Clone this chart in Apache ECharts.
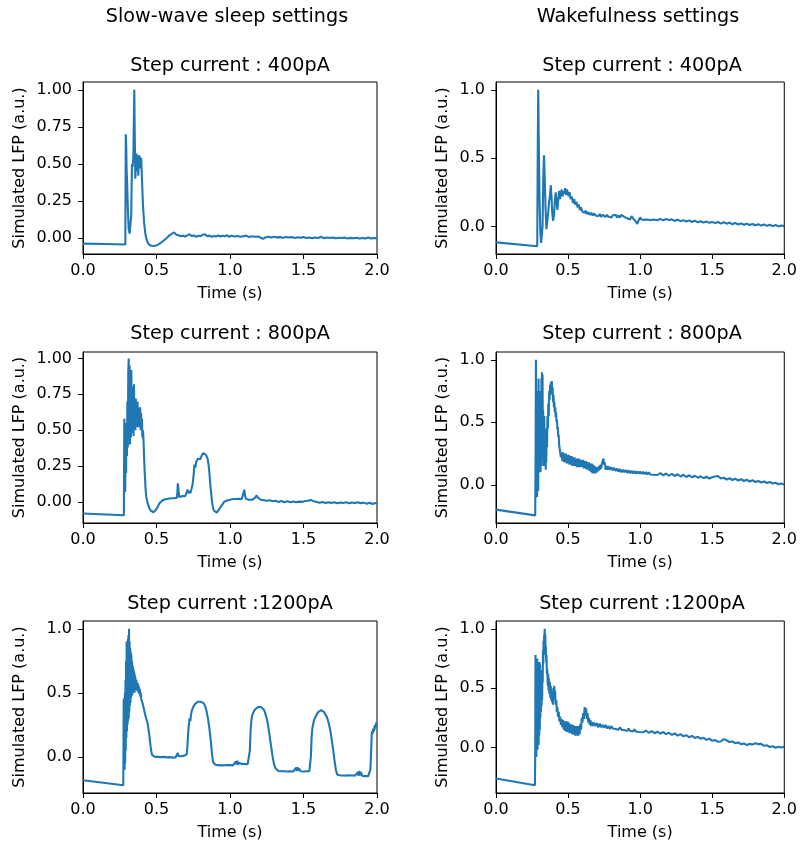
<!DOCTYPE html>
<html>
<head>
<meta charset="utf-8">
<script src="https://cdn.jsdelivr.net/npm/echarts@6/dist/echarts.min.js"></script>
<style>html,body{margin:0;padding:0;background:#fff;}#c{width:800px;height:846px;}</style>
</head>
<body>
<div id="c"></div>
<script>
// ---------------- DATA (time in s, simulated LFP in a.u.) ----------------
const columnTitles = ["Slow-wave sleep settings", "Wakefulness settings"];
const panelTitles = ["Step current : 400pA", "Step current : 400pA", "Step current : 800pA", "Step current : 800pA", "Step current :1200pA", "Step current :1200pA"];
const xTicks = [0, 0.5, 1.0, 1.5, 2.0];
const yTicksSws400 = [0, 0.25, 0.5, 0.75, 1.0];
const yTicksSws800 = [0, 0.25, 0.5, 0.75, 1.0];
const yTicksCoarse = [0, 0.5, 1.0];

const sws400 = [[0,-0.038],[0.15,-0.041],[0.288,-0.044],[0.291,0.70],[0.294,0.62],[0.297,0.45],[0.300,0.38],[0.305,0.20],[0.311,0.06],[0.317,0.03],[0.323,0.02],[0.328,0.15],[0.333,0.50],[0.338,0.48],[0.343,0.56],[0.346,0.80],[0.349,1.0],[0.352,0.70],[0.356,0.40],[0.360,0.52],[0.364,0.57],[0.368,0.45],[0.372,0.55],[0.376,0.42],[0.380,0.56],[0.384,0.47],[0.388,0.55],[0.392,0.50],[0.396,0.54],[0.401,0.40],[0.408,0.22],[0.416,0.10],[0.424,0.03],[0.432,-0.01],[0.440,-0.03],[0.450,-0.045],[0.465,-0.052],[0.48,-0.054],[0.50,-0.05],[0.52,-0.04],[0.545,-0.02],[0.57,0.0],[0.59,0.02],[0.605,0.03],[0.62,0.038],[0.635,0.022],[0.65,0.018],[0.665,0.012],[0.68,0.016],[0.695,0.01],[0.71,0.018],[0.725,0.026],[0.74,0.012],[0.755,0.018],[0.77,0.008],[0.785,0.015],[0.80,0.012],[0.815,0.022],[0.83,0.026],[0.845,0.012],[0.86,0.016],[0.875,0.008],[0.89,0.014],[0.905,0.01],[0.92,0.018],[0.935,0.01],[0.95,0.015],[0.965,0.012],[0.98,0.018],[0.995,0.008],[1.01,0.015],[1.03,0.01],[1.05,0.014],[1.07,0.008],[1.09,0.012],[1.11,0.016],[1.13,0.006],[1.15,0.012],[1.17,0.008],[1.19,0.01],[1.21,0.002],[1.225,-0.006],[1.24,0.004],[1.26,0.008],[1.28,0.003],[1.30,0.008],[1.32,0.004],[1.34,0.006],[1.36,0.002],[1.38,0.007],[1.40,0.003],[1.42,0.006],[1.44,0.0],[1.46,0.005],[1.48,0.002],[1.50,0.006],[1.52,0.0],[1.54,0.004],[1.56,-0.002],[1.58,0.003],[1.60,0.0],[1.62,0.008],[1.64,-0.002],[1.66,0.003],[1.68,0.0],[1.70,0.004],[1.72,-0.002],[1.74,0.002],[1.76,0.0],[1.78,0.003],[1.80,-0.003],[1.82,0.001],[1.84,-0.002],[1.86,0.002],[1.88,-0.003],[1.90,0.0],[1.92,-0.004],[1.94,0.004],[1.96,-0.004],[1.98,0.0],[2.0,-0.002]];

const wake400 = [[0,-0.117],[0.286,-0.145],[0.290,0.6],[0.293,1.0],[0.297,0.6],[0.302,0.2],[0.308,-0.05],[0.313,-0.12],[0.318,-0.13],[0.323,0.0],[0.328,0.35],[0.333,0.52],[0.338,0.35],[0.344,0.12],[0.350,-0.02],[0.356,-0.03],[0.362,0.10],[0.368,0.18],[0.374,0.22],[0.380,0.30],[0.385,0.22],[0.390,0.10],[0.396,0.04],[0.402,0.08],[0.408,0.18],[0.414,0.25],[0.420,0.18],[0.426,0.12],[0.432,0.20],[0.438,0.26],[0.444,0.20],[0.450,0.24],[0.456,0.27],[0.462,0.22],[0.468,0.26],[0.474,0.24],[0.480,0.28],[0.486,0.23],[0.492,0.27],[0.498,0.25],[0.504,0.22],[0.51,0.25],[0.518,0.20],[0.526,0.22],[0.534,0.17],[0.542,0.20],[0.55,0.16],[0.558,0.18],[0.566,0.14],[0.574,0.16],[0.582,0.12],[0.59,0.14],[0.598,0.11],[0.606,0.12],[0.614,0.10],[0.622,0.115],[0.63,0.09],[0.64,0.105],[0.65,0.085],[0.66,0.10],[0.67,0.08],[0.68,0.095],[0.69,0.08],[0.70,0.09],[0.71,0.075],[0.72,0.09],[0.73,0.07],[0.74,0.085],[0.75,0.095],[0.76,0.07],[0.77,0.085],[0.78,0.07],[0.79,0.08],[0.80,0.065],[0.81,0.08],[0.82,0.07],[0.83,0.085],[0.84,0.065],[0.85,0.08],[0.86,0.065],[0.87,0.085],[0.88,0.095],[0.89,0.07],[0.90,0.08],[0.91,0.06],[0.92,0.07],[0.93,0.05],[0.94,0.075],[0.95,0.06],[0.96,0.065],[0.97,0.035],[0.98,0.018],[0.99,0.045],[1.0,0.066],[1.01,0.05],[1.02,0.062],[1.03,0.048],[1.04,0.058],[1.05,0.05],[1.06,0.06],[1.07,0.045],[1.08,0.058],[1.09,0.05],[1.10,0.058],[1.12,0.045],[1.14,0.055],[1.16,0.044],[1.18,0.054],[1.20,0.046],[1.22,0.052],[1.24,0.04],[1.26,0.05],[1.28,0.038],[1.30,0.046],[1.32,0.036],[1.34,0.044],[1.36,0.032],[1.38,0.042],[1.40,0.03],[1.42,0.038],[1.44,0.028],[1.46,0.036],[1.48,0.026],[1.50,0.033],[1.52,0.024],[1.54,0.032],[1.56,0.02],[1.58,0.03],[1.60,0.02],[1.62,0.028],[1.64,0.016],[1.66,0.026],[1.68,0.014],[1.70,0.022],[1.72,0.012],[1.74,0.02],[1.76,0.01],[1.78,0.018],[1.80,0.008],[1.82,0.016],[1.84,0.006],[1.86,0.014],[1.88,0.004],[1.90,0.012],[1.92,0.002],[1.94,0.01],[1.96,0.0],[1.98,0.006],[2.0,0.002]];

const sws800 = [[0,-0.081],[0.278,-0.093],[0.281,0.58],[0.284,0.30],[0.287,0.07],[0.290,0.40],[0.293,0.20],[0.296,0.55],[0.299,0.32],[0.302,0.70],[0.305,0.38],[0.308,0.90],[0.311,1.0],[0.314,0.45],[0.317,0.95],[0.320,0.40],[0.323,0.85],[0.326,0.45],[0.329,0.92],[0.332,0.48],[0.335,0.80],[0.338,0.50],[0.341,0.75],[0.344,0.46],[0.347,0.82],[0.350,0.52],[0.353,0.70],[0.356,0.50],[0.359,0.72],[0.362,0.55],[0.365,0.68],[0.368,0.52],[0.371,0.70],[0.374,0.55],[0.377,0.66],[0.380,0.52],[0.383,0.64],[0.386,0.55],[0.389,0.66],[0.392,0.50],[0.395,0.62],[0.398,0.52],[0.401,0.58],[0.404,0.45],[0.408,0.50],[0.412,0.42],[0.416,0.30],[0.42,0.20],[0.425,0.10],[0.43,0.04],[0.44,-0.01],[0.45,-0.04],[0.46,-0.06],[0.47,-0.07],[0.48,-0.072],[0.49,-0.065],[0.50,-0.05],[0.51,-0.03],[0.52,-0.01],[0.53,0.0],[0.54,0.01],[0.55,0.02],[0.56,0.018],[0.57,0.028],[0.58,0.022],[0.59,0.03],[0.60,0.025],[0.61,0.032],[0.62,0.026],[0.63,0.035],[0.64,0.03],[0.645,0.13],[0.65,0.08],[0.655,0.035],[0.665,0.03],[0.675,0.04],[0.685,0.035],[0.695,0.04],[0.705,0.05],[0.712,0.085],[0.718,0.06],[0.724,0.075],[0.73,0.06],[0.738,0.09],[0.745,0.12],[0.752,0.18],[0.758,0.26],[0.764,0.24],[0.77,0.28],[0.776,0.27],[0.782,0.30],[0.788,0.29],[0.794,0.31],[0.80,0.30],[0.806,0.32],[0.812,0.33],[0.818,0.34],[0.824,0.33],[0.83,0.34],[0.836,0.33],[0.842,0.32],[0.848,0.30],[0.854,0.26],[0.86,0.20],[0.866,0.12],[0.872,0.06],[0.878,0.0],[0.884,-0.04],[0.89,-0.06],[0.90,-0.072],[0.91,-0.075],[0.92,-0.065],[0.93,-0.045],[0.94,-0.03],[0.95,-0.015],[0.96,0.0],[0.97,0.005],[0.98,0.01],[0.99,0.008],[1.0,0.015],[1.01,0.01],[1.02,0.02],[1.03,0.012],[1.04,0.02],[1.05,0.015],[1.06,0.022],[1.07,0.014],[1.08,0.02],[1.09,0.02],[1.097,0.085],[1.103,0.04],[1.11,0.02],[1.12,0.025],[1.13,0.015],[1.14,0.022],[1.15,0.015],[1.16,0.02],[1.17,0.028],[1.18,0.045],[1.19,0.03],[1.20,0.022],[1.21,0.015],[1.22,0.02],[1.23,0.012],[1.24,0.018],[1.25,0.008],[1.27,0.012],[1.29,0.004],[1.31,0.008],[1.33,0.0],[1.35,0.006],[1.37,-0.002],[1.39,0.004],[1.41,-0.002],[1.43,0.003],[1.45,-0.003],[1.47,0.002],[1.49,0.0],[1.51,0.006],[1.53,0.008],[1.55,0.014],[1.57,0.004],[1.59,0.0],[1.61,-0.006],[1.63,0.0],[1.65,-0.008],[1.67,-0.002],[1.69,-0.008],[1.71,-0.003],[1.73,-0.01],[1.75,-0.004],[1.77,-0.008],[1.79,-0.003],[1.81,-0.01],[1.83,-0.004],[1.85,-0.008],[1.87,-0.002],[1.89,-0.01],[1.91,-0.005],[1.93,-0.012],[1.95,-0.006],[1.97,-0.015],[1.99,-0.008],[2.0,-0.012]];

const wake800 = [[0,-0.199],[0.272,-0.245],[0.275,0.3],[0.277,1.0],[0.279,0.2],[0.281,-0.09],[0.283,0.6],[0.285,-0.1],[0.287,0.75],[0.289,0.0],[0.291,0.55],[0.293,-0.05],[0.295,0.85],[0.297,0.1],[0.299,0.65],[0.301,0.15],[0.303,0.75],[0.305,0.2],[0.307,0.55],[0.309,0.1],[0.311,0.7],[0.313,0.15],[0.315,0.85],[0.317,0.3],[0.319,0.9],[0.321,0.2],[0.323,0.88],[0.325,0.3],[0.327,0.6],[0.329,0.15],[0.331,0.5],[0.333,0.25],[0.335,0.55],[0.337,0.2],[0.339,0.45],[0.341,0.15],[0.343,0.4],[0.345,0.12],[0.347,0.35],[0.349,0.18],[0.351,0.45],[0.354,0.30],[0.357,0.55],[0.360,0.45],[0.363,0.65],[0.366,0.55],[0.369,0.75],[0.372,0.68],[0.375,0.80],[0.378,0.72],[0.381,0.82],[0.384,0.74],[0.387,0.83],[0.390,0.72],[0.393,0.78],[0.396,0.66],[0.399,0.72],[0.402,0.62],[0.405,0.66],[0.408,0.58],[0.411,0.62],[0.414,0.54],[0.417,0.58],[0.42,0.50],[0.423,0.52],[0.426,0.44],[0.429,0.46],[0.432,0.38],[0.435,0.40],[0.438,0.32],[0.441,0.33],[0.444,0.27],[0.447,0.28],[0.45,0.22],[0.455,0.26],[0.46,0.19],[0.465,0.26],[0.47,0.18],[0.475,0.25],[0.48,0.18],[0.485,0.25],[0.49,0.17],[0.495,0.24],[0.50,0.17],[0.505,0.24],[0.51,0.16],[0.515,0.23],[0.52,0.16],[0.525,0.23],[0.53,0.15],[0.535,0.22],[0.54,0.15],[0.545,0.22],[0.55,0.15],[0.555,0.21],[0.56,0.14],[0.565,0.21],[0.57,0.14],[0.575,0.21],[0.58,0.14],[0.585,0.20],[0.59,0.14],[0.595,0.20],[0.60,0.14],[0.605,0.20],[0.61,0.13],[0.615,0.19],[0.62,0.13],[0.625,0.19],[0.63,0.12],[0.635,0.18],[0.64,0.12],[0.645,0.18],[0.65,0.11],[0.655,0.17],[0.66,0.10],[0.665,0.17],[0.67,0.09],[0.675,0.16],[0.68,0.09],[0.685,0.15],[0.69,0.09],[0.695,0.14],[0.70,0.10],[0.705,0.14],[0.71,0.11],[0.715,0.15],[0.72,0.12],[0.725,0.16],[0.73,0.13],[0.735,0.17],[0.74,0.16],[0.745,0.21],[0.75,0.16],[0.755,0.18],[0.76,0.12],[0.765,0.15],[0.77,0.12],[0.775,0.15],[0.78,0.12],[0.785,0.145],[0.79,0.12],[0.80,0.14],[0.81,0.115],[0.82,0.135],[0.83,0.11],[0.84,0.13],[0.85,0.105],[0.86,0.125],[0.87,0.1],[0.88,0.12],[0.89,0.1],[0.90,0.118],[0.91,0.095],[0.92,0.115],[0.93,0.092],[0.94,0.112],[0.95,0.09],[0.96,0.11],[0.97,0.088],[0.98,0.108],[0.99,0.088],[1.0,0.106],[1.01,0.086],[1.02,0.104],[1.03,0.085],[1.04,0.102],[1.05,0.082],[1.06,0.1],[1.07,0.082],[1.08,0.098],[1.09,0.08],[1.10,0.096],[1.12,0.078],[1.14,0.094],[1.16,0.075],[1.18,0.09],[1.20,0.072],[1.22,0.088],[1.24,0.07],[1.26,0.084],[1.28,0.066],[1.30,0.08],[1.32,0.062],[1.34,0.076],[1.36,0.06],[1.38,0.072],[1.40,0.056],[1.42,0.068],[1.44,0.052],[1.46,0.064],[1.48,0.05],[1.50,0.06],[1.52,0.066],[1.54,0.07],[1.56,0.05],[1.58,0.056],[1.60,0.042],[1.62,0.052],[1.64,0.038],[1.66,0.048],[1.68,0.034],[1.70,0.044],[1.72,0.03],[1.74,0.04],[1.76,0.026],[1.78,0.036],[1.80,0.022],[1.82,0.03],[1.84,0.018],[1.86,0.026],[1.88,0.014],[1.90,0.022],[1.92,0.01],[1.94,0.016],[1.96,0.004],[1.98,0.01],[2.0,0.002]];

const sws1200 = [[0,-0.182],[0.274,-0.221],[0.277,0.45],[0.279,-0.08],[0.281,0.46],[0.283,-0.1],[0.285,0.5],[0.287,-0.05],[0.289,0.6],[0.291,0.05],[0.293,0.75],[0.295,0.15],[0.297,0.9],[0.299,0.2],[0.301,0.85],[0.303,0.25],[0.305,0.92],[0.307,0.28],[0.309,0.95],[0.311,0.3],[0.313,1.0],[0.315,0.35],[0.317,0.9],[0.319,0.4],[0.321,0.85],[0.323,0.42],[0.325,0.82],[0.327,0.46],[0.329,0.80],[0.331,0.48],[0.333,0.75],[0.335,0.48],[0.337,0.72],[0.339,0.50],[0.341,0.70],[0.343,0.50],[0.345,0.68],[0.347,0.5],[0.349,0.66],[0.351,0.5],[0.353,0.64],[0.355,0.52],[0.357,0.62],[0.36,0.52],[0.363,0.60],[0.366,0.52],[0.369,0.58],[0.372,0.51],[0.375,0.57],[0.378,0.50],[0.381,0.55],[0.384,0.49],[0.387,0.53],[0.39,0.47],[0.393,0.50],[0.396,0.45],[0.40,0.46],[0.405,0.42],[0.41,0.41],[0.415,0.37],[0.42,0.36],[0.425,0.32],[0.43,0.31],[0.435,0.28],[0.44,0.26],[0.445,0.22],[0.45,0.18],[0.455,0.13],[0.46,0.08],[0.465,0.04],[0.47,0.015],[0.48,0.005],[0.49,0.0],[0.50,0.008],[0.51,0.0],[0.52,0.006],[0.53,-0.002],[0.54,0.008],[0.55,0.0],[0.56,0.006],[0.57,-0.004],[0.58,0.005],[0.59,-0.002],[0.60,0.004],[0.61,-0.006],[0.62,0.002],[0.63,-0.004],[0.64,0.01],[0.645,0.03],[0.65,0.005],[0.66,0.0],[0.67,0.006],[0.68,0.002],[0.69,0.01],[0.70,0.012],[0.705,0.02],[0.71,0.08],[0.715,0.18],[0.72,0.25],[0.725,0.30],[0.73,0.28],[0.735,0.33],[0.74,0.36],[0.75,0.39],[0.76,0.41],[0.77,0.42],[0.78,0.43],[0.79,0.435],[0.80,0.43],[0.81,0.425],[0.82,0.42],[0.83,0.40],[0.84,0.36],[0.85,0.30],[0.86,0.22],[0.87,0.12],[0.875,0.05],[0.88,0.0],[0.885,-0.04],[0.89,-0.055],[0.90,-0.062],[0.91,-0.056],[0.92,-0.064],[0.93,-0.058],[0.94,-0.066],[0.95,-0.06],[0.96,-0.065],[0.97,-0.058],[0.98,-0.064],[0.99,-0.058],[1.0,-0.064],[1.01,-0.058],[1.02,-0.066],[1.03,-0.06],[1.04,-0.035],[1.045,-0.06],[1.05,-0.03],[1.055,-0.062],[1.06,-0.045],[1.07,-0.06],[1.08,-0.056],[1.09,-0.062],[1.10,-0.056],[1.11,-0.064],[1.12,-0.058],[1.13,-0.05],[1.135,0.05],[1.14,0.20],[1.145,0.28],[1.15,0.32],[1.16,0.35],[1.17,0.37],[1.18,0.385],[1.19,0.39],[1.20,0.395],[1.21,0.39],[1.22,0.38],[1.23,0.37],[1.24,0.34],[1.25,0.30],[1.26,0.24],[1.27,0.16],[1.28,0.08],[1.29,0.0],[1.30,-0.06],[1.31,-0.09],[1.32,-0.105],[1.33,-0.11],[1.34,-0.104],[1.35,-0.112],[1.36,-0.106],[1.37,-0.112],[1.38,-0.106],[1.39,-0.114],[1.40,-0.108],[1.41,-0.112],[1.42,-0.106],[1.43,-0.114],[1.44,-0.108],[1.45,-0.085],[1.455,-0.11],[1.46,-0.08],[1.465,-0.108],[1.47,-0.09],[1.48,-0.112],[1.49,-0.106],[1.50,-0.114],[1.51,-0.108],[1.52,-0.112],[1.53,-0.106],[1.54,-0.112],[1.545,-0.10],[1.55,0.0],[1.555,0.15],[1.56,0.22],[1.57,0.28],[1.58,0.31],[1.59,0.33],[1.60,0.35],[1.61,0.36],[1.62,0.365],[1.63,0.36],[1.64,0.35],[1.65,0.33],[1.66,0.31],[1.67,0.27],[1.68,0.22],[1.69,0.15],[1.70,0.07],[1.71,-0.02],[1.72,-0.10],[1.73,-0.14],[1.74,-0.15],[1.75,-0.144],[1.76,-0.15],[1.77,-0.145],[1.78,-0.152],[1.79,-0.146],[1.80,-0.15],[1.81,-0.144],[1.82,-0.15],[1.83,-0.145],[1.84,-0.152],[1.85,-0.146],[1.86,-0.15],[1.87,-0.12],[1.875,-0.148],[1.88,-0.11],[1.885,-0.145],[1.89,-0.12],[1.90,-0.148],[1.91,-0.144],[1.92,-0.15],[1.93,-0.145],[1.94,-0.15],[1.95,-0.14],[1.955,-0.10],[1.96,0.05],[1.965,0.2],[1.97,0.18],[1.975,0.22],[1.98,0.2],[1.985,0.25],[1.99,0.22],[1.995,0.27],[2.0,0.25]];

const wake1200 = [[0,-0.261],[0.27,-0.318],[0.272,-0.09],[0.274,0.78],[0.276,-0.05],[0.278,0.72],[0.280,-0.08],[0.282,0.70],[0.284,0.0],[0.286,0.75],[0.288,-0.02],[0.290,0.72],[0.292,0.05],[0.294,0.68],[0.296,0.02],[0.298,0.70],[0.300,0.10],[0.302,0.72],[0.304,0.15],[0.306,0.70],[0.308,0.25],[0.310,0.65],[0.312,0.30],[0.314,0.62],[0.316,0.35],[0.318,0.58],[0.320,0.40],[0.322,0.60],[0.324,0.55],[0.326,0.82],[0.328,0.70],[0.330,0.90],[0.332,0.78],[0.334,0.95],[0.336,0.85],[0.338,1.0],[0.340,0.88],[0.342,0.95],[0.344,0.80],[0.346,0.85],[0.348,0.72],[0.350,0.78],[0.353,0.62],[0.356,0.66],[0.359,0.52],[0.362,0.62],[0.365,0.48],[0.368,0.58],[0.371,0.45],[0.374,0.55],[0.377,0.42],[0.38,0.52],[0.383,0.40],[0.386,0.48],[0.389,0.38],[0.392,0.48],[0.395,0.36],[0.398,0.50],[0.401,0.40],[0.404,0.52],[0.407,0.42],[0.41,0.48],[0.414,0.36],[0.418,0.40],[0.422,0.30],[0.426,0.34],[0.43,0.26],[0.435,0.30],[0.44,0.22],[0.445,0.26],[0.45,0.19],[0.455,0.24],[0.46,0.17],[0.465,0.23],[0.47,0.15],[0.475,0.22],[0.48,0.14],[0.485,0.22],[0.49,0.13],[0.495,0.22],[0.50,0.13],[0.505,0.21],[0.51,0.12],[0.515,0.2],[0.52,0.12],[0.525,0.19],[0.53,0.11],[0.535,0.19],[0.54,0.11],[0.545,0.18],[0.55,0.10],[0.555,0.18],[0.56,0.10],[0.565,0.18],[0.57,0.10],[0.575,0.18],[0.58,0.11],[0.585,0.2],[0.59,0.15],[0.595,0.25],[0.60,0.21],[0.605,0.29],[0.61,0.24],[0.615,0.34],[0.62,0.27],[0.625,0.33],[0.63,0.24],[0.635,0.29],[0.64,0.21],[0.645,0.25],[0.65,0.19],[0.655,0.23],[0.66,0.18],[0.665,0.215],[0.67,0.18],[0.68,0.21],[0.69,0.18],[0.70,0.205],[0.71,0.17],[0.72,0.2],[0.73,0.17],[0.74,0.19],[0.75,0.165],[0.76,0.19],[0.77,0.16],[0.78,0.18],[0.79,0.155],[0.80,0.18],[0.81,0.16],[0.82,0.175],[0.83,0.155],[0.84,0.17],[0.85,0.15],[0.86,0.17],[0.87,0.15],[0.88,0.165],[0.89,0.145],[0.90,0.16],[0.91,0.14],[0.92,0.158],[0.93,0.14],[0.94,0.155],[0.95,0.135],[0.96,0.152],[0.97,0.134],[0.98,0.15],[0.99,0.13],[1.0,0.146],[1.02,0.128],[1.04,0.142],[1.06,0.124],[1.08,0.138],[1.10,0.12],[1.12,0.134],[1.14,0.116],[1.16,0.13],[1.18,0.112],[1.20,0.124],[1.22,0.106],[1.24,0.118],[1.26,0.1],[1.28,0.112],[1.30,0.094],[1.32,0.104],[1.34,0.086],[1.36,0.098],[1.38,0.08],[1.40,0.09],[1.42,0.074],[1.44,0.082],[1.46,0.064],[1.48,0.074],[1.50,0.056],[1.52,0.062],[1.54,0.048],[1.56,0.05],[1.57,0.066],[1.58,0.07],[1.59,0.056],[1.60,0.06],[1.62,0.046],[1.64,0.05],[1.66,0.036],[1.68,0.042],[1.70,0.028],[1.72,0.034],[1.74,0.02],[1.76,0.03],[1.78,0.024],[1.80,0.036],[1.82,0.028],[1.84,0.03],[1.86,0.014],[1.88,0.018],[1.90,0.004],[1.92,0.01],[1.94,-0.002],[1.96,0.006],[1.98,0.0],[2.0,0.006]];

// ---------------- LAYOUT ----------------
const FONT = "DejaVu Sans";
const TICK_FS = 16;
const TITLE_FS = 19.2;
const panels = [
  {data: sws400,  grid:{left:83, top:82,  width:294, height:172}, ymin:-0.108, ymax:1.053, ticks:yTicksSws400, dec:2, nameGap:55, titleY:66},
  {data: wake400, grid:{left:496,top:82,  width:292, height:172}, ymin:-0.202, ymax:1.057, ticks:yTicksCoarse, dec:1, nameGap:45, titleY:66},
  {data: sws800,  grid:{left:83, top:352, width:294, height:171}, ymin:-0.147, ymax:1.045, ticks:yTicksSws800, dec:2, nameGap:55, titleY:334},
  {data: wake800, grid:{left:496,top:352, width:292, height:171}, ymin:-0.306, ymax:1.062, ticks:yTicksCoarse, dec:1, nameGap:45, titleY:334},
  {data: sws1200, grid:{left:83, top:621, width:294, height:172}, ymin:-0.282, ymax:1.061, ticks:yTicksCoarse, dec:1, nameGap:55, titleY:604},
  {data: wake1200,grid:{left:496,top:621, width:292, height:172}, ymin:-0.384, ymax:1.066, ticks:yTicksCoarse, dec:1, nameGap:45, titleY:604}
];

const chart = echarts.init(document.getElementById('c'), null, {renderer:'canvas'});
const grid = [], xAxis = [], yAxis = [], series = [], graphic = [];
panels.forEach((p, i) => {
  grid.push(Object.assign({show:true, borderColor:'#000', borderWidth:1, backgroundColor:'transparent'}, p.grid));
  xAxis.push({
    type:'value', gridIndex:i, min:0, max:2,
    name:'Time (s)', nameLocation:'middle', nameGap:32,
    nameTextStyle:{fontFamily:FONT, fontSize:TICK_FS, color:'#000'},
    axisLine:{show:true, onZero:false, lineStyle:{color:'#000', width:1}},
    axisTick:{show:true, inside:false, length:5, customValues:xTicks, lineStyle:{color:'#000'}},
    axisLabel:{customValues:xTicks, margin:9, fontFamily:FONT, fontSize:TICK_FS, color:'#000', formatter:v=>v.toFixed(1)},
    splitLine:{show:false}
  });
  yAxis.push({
    type:'value', gridIndex:i, min:p.ymin, max:p.ymax,
    name:'Simulated LFP (a.u.)', nameLocation:'middle', nameRotate:90, nameGap:p.nameGap,
    nameTextStyle:{fontFamily:FONT, fontSize:TICK_FS, color:'#000'},
    axisLine:{show:true, onZero:false, lineStyle:{color:'#000', width:1}},
    axisTick:{show:true, inside:false, length:5, customValues:p.ticks, lineStyle:{color:'#000'}},
    axisLabel:{customValues:p.ticks, margin:11, fontFamily:FONT, fontSize:TICK_FS, color:'#000', formatter:v=>v.toFixed(p.dec)},
    splitLine:{show:false}
  });
  series.push({
    type:'line', xAxisIndex:i, yAxisIndex:i, data:p.data, showSymbol:false, symbol:'none',
    lineStyle:{color:'#1f77b4', width:2.1}, animation:false, clip:true
  });
  graphic.push({type:'text', x:p.grid.left + p.grid.width/2, y:p.titleY,
    style:{text:panelTitles[i], fontFamily:FONT, fontSize:TITLE_FS, fill:'#000', align:'center', verticalAlign:'middle'}});
});
graphic.push({type:'text', x:227, y:17, style:{text:columnTitles[0], fontFamily:FONT, fontSize:TITLE_FS, fill:'#000', align:'center', verticalAlign:'middle'}});
graphic.push({type:'text', x:638, y:17, style:{text:columnTitles[1], fontFamily:FONT, fontSize:TITLE_FS, fill:'#000', align:'center', verticalAlign:'middle'}});

chart.setOption({animation:false, backgroundColor:'#fff', grid, xAxis, yAxis, series, graphic});
</script>
</body>
</html>
